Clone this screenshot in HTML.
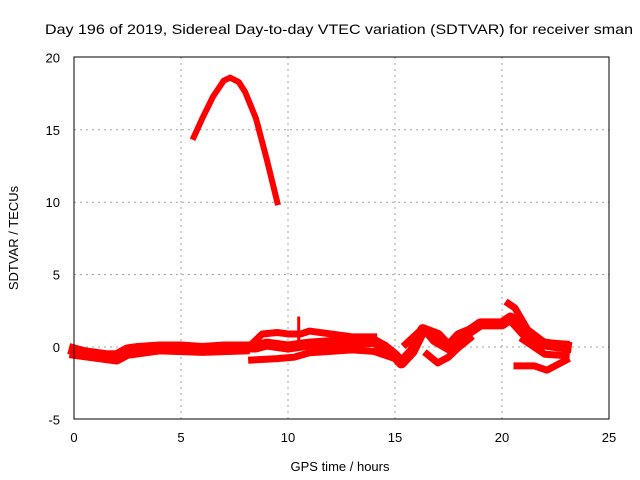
<!DOCTYPE html>
<html><head><meta charset="utf-8"><style>
body{margin:0;background:#fff;}
svg{display:block;font-family:"Liberation Sans",sans-serif;}
</style></head><body>
<svg id="chart" width="640" height="480" xmlns="http://www.w3.org/2000/svg">
<rect width="640" height="480" fill="#fff"/>
<text x="45" y="34" font-size="14" textLength="588" lengthAdjust="spacingAndGlyphs" fill="#000">Day 196 of 2019, Sidereal Day-to-day VTEC variation (SDTVAR) for receiver sman</text>
<g id="grid"></g>
<g id="data"></g>
<rect x="74" y="57" width="535" height="362" fill="none" stroke="#000" stroke-width="1"/>
<g id="ticks"></g>
<text x="340" y="471" font-size="13" text-anchor="middle">GPS time / hours</text>
<text transform="translate(18,238) rotate(-90)" font-size="13" text-anchor="middle">SDTVAR / TECUs</text>
</svg>
<script>
const xTicks=[0,5,10,15,20,25];
const yTicks=[-5,0,5,10,15,20];
const arcTrack=[[5.6,14.5],[6.0,15.8],[6.5,17.3],[7.0,18.4],[7.3,18.6],[7.7,18.3],[8.0,17.6],[8.5,15.8],[9.0,13],[9.5,10]];
const mainTrack=[[0,-0.2],[0.5,-0.4],[1,-0.5],[1.5,-0.6],[2,-0.6],[2.5,-0.2],[3,-0.1],[4,0],[5,0],[6,-0.1],[7,0],[8,0],[8.5,0],[9,0.2],[10,0],[11,0.2],[12,0.3],[13,0.3],[14,0.4],[14.5,0],[15,-0.6],[15.3,-1.1],[15.8,-0.3],[16.3,1.2],[17,0.8],[17.5,0],[18,0.8],[18.5,1.1],[19,1.6],[20,1.6],[20.4,2],[21,1],[21.5,0.5],[22,0.2],[23,0]];
const lowBand=[[0,-0.5],[1,-0.7],[2,-0.9],[2.5,-0.5],[4,-0.2],[6,-0.3],[8,-0.2]];
const upperLoop=[[8.3,0.2],[8.8,0.9],[9.5,1.0],[10,0.9],[10.6,0.9],[11,1.1],[12,0.9],[13,0.7],[14,0.7]];
const lowerLoop=[[8.3,-0.9],[9.5,-0.8],[10.3,-0.7],[11,-0.4],[12,-0.3],[13,-0.2],[14,-0.3],[15,-0.8]];
const dipTrack=[[16.5,-0.5],[17,-1.1],[17.5,-0.7],[18,0],[18.5,0.6]];
const humpTrack=[[15.5,0.2],[16.3,1.3],[16.8,0.4],[17.5,-0.2]];
const peakTrack=[[20.3,3],[20.6,2.7],[21.2,1.2],[22,0.3],[23,0.2]];
const midTail=[[21,0.5],[22,-0.5],[23,-0.6]];
const lowTail=[[20.7,-1.3],[21.5,-1.3],[22.1,-1.6],[23,-0.9]];
const spike=[[10.5,0.3],[10.5,2]];
const X=h=>74+h*21.4, Y=v=>347-v*14.48;
const NS='http://www.w3.org/2000/svg';
const grid=document.getElementById('grid'),ticks=document.getElementById('ticks'),dg=document.getElementById('data');
function mk(t,a,p){const e=document.createElementNS(NS,t);for(const k in a)e.setAttribute(k,a[k]);p.appendChild(e);return e;}
xTicks.forEach(t=>{const x=X(t);
 if(t>0&&t<25){const g=mk('line',{x1:x,x2:x,y1:57,y2:419,stroke:'#a0a0a0','stroke-dasharray':'2,4'},grid);
 
 }
 const l=mk('text',{x:x,y:442,'font-size':13,'text-anchor':'middle'},ticks);l.textContent=t;
 
 
});
yTicks.forEach(t=>{const y=Y(t);
 if(t>-5&&t<20){const g=mk('line',{x1:74,x2:609,y1:y,y2:y,stroke:'#a0a0a0','stroke-dasharray':'2,4'},grid);
 
 }
 const l=mk('text',{x:60,y:y+5,'font-size':13,'text-anchor':'end'},ticks);l.textContent=t;
 
 
});
function track(d,w,name){const p=mk('polyline',{points:d.map(q=>X(q[0])+','+Y(q[1])).join(' '),fill:'none',stroke:'#ff0000','stroke-width':w,'stroke-linejoin':'round','stroke-linecap':'square'},dg);
 
 }
track(arcTrack,6,'series-arc');
track(mainTrack,11,'series-main');
track(lowBand,9,'series-low-band');
track(upperLoop,7,'series-upper-loop');
track(lowerLoop,7,'series-lower-loop');
track(dipTrack,7,'series-dip');
track(humpTrack,7,'series-hump');
track(peakTrack,7,'series-peak');
track(midTail,7,'series-mid-tail');
track(lowTail,7,'series-low-tail');
track(spike,3,'series-spike');
</script>
</body></html>
